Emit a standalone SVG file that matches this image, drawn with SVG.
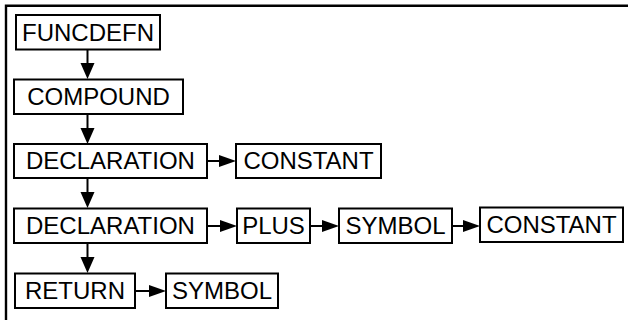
<svg xmlns="http://www.w3.org/2000/svg" width="628" height="320" viewBox="0 0 628 320">
<style>
.box{fill:#fff;stroke:#000;stroke-width:2}
.t{font-family:"Liberation Sans",Arial,sans-serif;font-size:24px;fill:#000;text-anchor:middle}
.ln{stroke:#000;stroke-width:2;fill:none}
.hd{fill:#000;stroke:none}
.frame{stroke:#000;stroke-width:2.4;fill:none}
</style>
<rect width="628" height="320" fill="#fff"/>
<path class="frame" d="M6,320 V5.8 H628"/>
<g id="connectors">
  <path class="ln" d="M87.5,49.5 V64"/><polygon class="hd" points="80.5,63 94.5,63 87.5,79"/>
  <path class="ln" d="M87.5,114 V128.5"/><polygon class="hd" points="80.5,128 94.5,128 87.5,144"/>
  <path class="ln" d="M87.5,178 V193"/><polygon class="hd" points="80.5,192 94.5,192 87.5,208"/>
  <path class="ln" d="M87.5,243 V257.5"/><polygon class="hd" points="80.5,257 94.5,257 87.5,273"/>
  <path class="ln" d="M207,161 H220"/><polygon class="hd" points="219,155 219,167 236,161"/>
  <path class="ln" d="M207,226 H221"/><polygon class="hd" points="220,220 220,232 237,226"/>
  <path class="ln" d="M310,226 H323"/><polygon class="hd" points="322,220 322,232 339,226"/>
  <path class="ln" d="M452,226 H464"/><polygon class="hd" points="463,220 463,232 480,226"/>
  <path class="ln" d="M135,291 H150"/><polygon class="hd" points="149,285 149,297 166,291"/>
</g>
<g id="funcdefn"><rect class="box" x="16" y="15" width="144" height="34.5"/><text class="t" x="88" y="40.5">FUNCDEFN</text></g>
<g id="compound"><rect class="box" x="14" y="79.5" width="169" height="34.5"/><text class="t" x="98.5" y="105">COMPOUND</text></g>
<g id="declaration1"><rect class="box" x="14" y="144" width="193" height="34"/><text class="t" x="110.5" y="169">DECLARATION</text></g>
<g id="constant1"><rect class="box" x="236" y="144" width="145" height="34"/><text class="t" x="308.5" y="169">CONSTANT</text></g>
<g id="declaration2"><rect class="box" x="14" y="208.5" width="193" height="34.5"/><text class="t" x="110.5" y="233.7">DECLARATION</text></g>
<g id="plus"><rect class="box" x="237" y="208.5" width="73" height="34.5"/><text class="t" x="273.5" y="233.7">PLUS</text></g>
<g id="symbol1"><rect class="box" x="339" y="208.5" width="113" height="34.5"/><text class="t" x="395.5" y="233.7">SYMBOL</text></g>
<g id="constant2"><rect class="box" x="480" y="207.5" width="143" height="34.5"/><text class="t" x="551.5" y="232.7">CONSTANT</text></g>
<g id="return"><rect class="box" x="15" y="273.5" width="120" height="34.5"/><text class="t" x="75" y="298.7">RETURN</text></g>
<g id="symbol2"><rect class="box" x="166" y="273.5" width="112" height="34.5"/><text class="t" x="222" y="298.7">SYMBOL</text></g>
</svg>
